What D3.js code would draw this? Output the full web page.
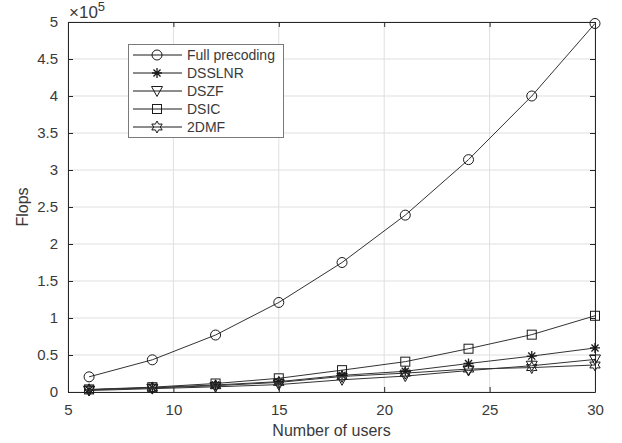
<!DOCTYPE html>
<html>
<head>
<meta charset="utf-8">
<script src="https://cdn.jsdelivr.net/npm/d3@7"></script>
<style>
  body { margin: 0; background: #fff; }
  text { font-family: "Liberation Sans", Arial, sans-serif; fill: #3a3a3a; }
</style>
</head>
<body>
<div id="chart"></div>
<script>
// chart data (flops, in units of 1e5)
var users = [6, 9, 12, 15, 18, 21, 24, 27, 30];
var fullPrecoding = [0.205, 0.435, 0.77, 1.21, 1.75, 2.39, 3.14, 4.0, 4.98];
var dsslnr = [0.03, 0.06, 0.095, 0.14, 0.225, 0.28, 0.385, 0.485, 0.595];
var dszf = [0.02, 0.045, 0.07, 0.1, 0.165, 0.215, 0.29, 0.355, 0.44];
var dsic = [0.035, 0.065, 0.115, 0.185, 0.295, 0.41, 0.585, 0.775, 1.03];
var dmf2 = [0.03, 0.055, 0.085, 0.13, 0.21, 0.255, 0.31, 0.33, 0.365];

var seriesNames = ["Full precoding", "DSSLNR", "DSZF", "DSIC", "2DMF"];
var seriesValues = [fullPrecoding, dsslnr, dszf, dsic, dmf2];
var markerTypes = ["circle", "asterisk", "triangle", "square", "hexagram"];

var xTicks = [5, 10, 15, 20, 25, 30];
var yTicks = [0, 0.5, 1, 1.5, 2, 2.5, 3, 3.5, 4, 4.5, 5];

var svgWidth = 622;
var svgHeight = 443;
var margin = { top: 22, right: 27, bottom: 51, left: 68 };
var width = svgWidth - margin.left - margin.right;
var height = svgHeight - margin.top - margin.bottom;

var svg = d3.select("#chart")
  .append("svg")
  .attr("width", svgWidth)
  .attr("height", svgHeight);

var chartGroup = svg.append("g")
  .attr("transform", `translate(${margin.left}, ${margin.top})`);

var xScale = d3.scaleLinear().domain([5, 30]).range([0, width]);
var yScale = d3.scaleLinear().domain([0, 5]).range([height, 0]);

var axisColor = "#262626";
var gridColor = "#dfdfdf";

// grid lines
chartGroup.append("g")
  .selectAll("line")
  .data(xTicks)
  .enter()
  .append("line")
  .attr("x1", d => xScale(d)).attr("x2", d => xScale(d))
  .attr("y1", 0).attr("y2", height)
  .attr("stroke", gridColor);

chartGroup.append("g")
  .selectAll("line")
  .data(yTicks)
  .enter()
  .append("line")
  .attr("x1", 0).attr("x2", width)
  .attr("y1", d => yScale(d)).attr("y2", d => yScale(d))
  .attr("stroke", gridColor);

// axes (ticks pointing inward, box on all sides)
function styleAxis(g) {
  g.select(".domain").attr("stroke", axisColor);
  g.selectAll(".tick line").attr("stroke", axisColor);
  g.selectAll(".tick text")
    .attr("fill", "#3a3a3a")
    .style("font-size", "15px")
    .style("font-family", "'Liberation Sans', Arial, sans-serif");
}

chartGroup.append("g")
  .attr("transform", `translate(0, ${height})`)
  .call(d3.axisBottom(xScale).tickValues(xTicks).tickSizeInner(-5).tickSizeOuter(0).tickPadding(12))
  .call(styleAxis);

chartGroup.append("g")
  .call(d3.axisTop(xScale).tickValues(xTicks).tickSizeInner(-5).tickSizeOuter(0).tickFormat(""))
  .call(styleAxis);

chartGroup.append("g")
  .call(d3.axisLeft(yScale).tickValues(yTicks).tickFormat(d => String(d)).tickSizeInner(-5).tickSizeOuter(0).tickPadding(10))
  .call(styleAxis);

chartGroup.append("g")
  .attr("transform", `translate(${width}, 0)`)
  .call(d3.axisRight(yScale).tickValues(yTicks).tickSizeInner(-5).tickSizeOuter(0).tickFormat(""))
  .call(styleAxis);

// exponent label
var expLabel = svg.append("text")
  .attr("x", margin.left + 1)
  .attr("y", 18)
  .style("font-size", "17px");
expLabel.append("tspan").text("\u00d710");
expLabel.append("tspan").attr("dy", -7).style("font-size", "13px").text("5");

// axis titles
svg.append("text")
  .attr("x", margin.left + width / 2)
  .attr("y", 436)
  .attr("text-anchor", "middle")
  .style("font-size", "16px")
  .text("Number of users");

svg.append("text")
  .attr("transform", `translate(28, ${margin.top + height / 2}) rotate(-90)`)
  .attr("text-anchor", "middle")
  .style("font-size", "16px")
  .text("Flops");

// marker drawing
function drawMarker(g, type) {
  var c = "#1a1a1a";
  if (type === "circle") {
    g.append("circle").attr("r", 5).attr("fill", "none").attr("stroke", c);
  } else if (type === "square") {
    g.append("rect").attr("x", -4.5).attr("y", -4.5).attr("width", 9).attr("height", 9)
      .attr("fill", "none").attr("stroke", c);
  } else if (type === "triangle") {
    g.append("path").attr("d", "M-5.5,-4.5 L5.5,-4.5 L0,5.5 Z")
      .attr("fill", "none").attr("stroke", c);
  } else if (type === "asterisk") {
    var r = 5;
    var k = r * 0.7071;
    g.append("path")
      .attr("d", `M${-r},0L${r},0M0,${-r}L0,${r}M${-k},${-k}L${k},${k}M${-k},${k}L${k},${-k}`)
      .attr("stroke", c).attr("stroke-width", 1.3);
  } else if (type === "hexagram") {
    var pts = [];
    for (var i = 0; i < 12; i++) {
      var rr = i % 2 === 0 ? 6 : 3.3;
      var a = -Math.PI / 2 + i * Math.PI / 6;
      pts.push([rr * Math.cos(a), rr * Math.sin(a)]);
    }
    g.append("path").attr("d", "M" + pts.join("L") + "Z")
      .attr("fill", "none").attr("stroke", c);
  }
}

// series lines and markers
var line = d3.line()
  .x((d, i) => xScale(users[i]))
  .y(d => yScale(d));

seriesValues.forEach(function(vals, s) {
  chartGroup.append("path")
    .datum(vals)
    .attr("d", line)
    .attr("fill", "none")
    .attr("stroke", "#333")
    .attr("stroke-width", 1);

  chartGroup.selectAll(".m" + s)
    .data(vals)
    .enter()
    .append("g")
    .attr("class", "m" + s)
    .attr("transform", (d, i) => `translate(${xScale(users[i])}, ${yScale(d)})`)
    .each(function() { drawMarker(d3.select(this), markerTypes[s]); });
});

// legend
var legend = svg.append("g").attr("transform", "translate(128, 44)");
legend.append("rect")
  .attr("x", 0.5).attr("y", 0.5)
  .attr("width", 155).attr("height", 93)
  .attr("fill", "#fff")
  .attr("stroke", "#7a7a7a");

seriesNames.forEach(function(name, s) {
  var y = 11 + s * 18;
  legend.append("line")
    .attr("x1", 5).attr("x2", 54)
    .attr("y1", y).attr("y2", y)
    .attr("stroke", "#1a1a1a");
  var mg = legend.append("g").attr("transform", `translate(29, ${y})`);
  drawMarker(mg, markerTypes[s]);
  legend.append("text")
    .attr("x", 59)
    .attr("y", y + 5)
    .attr("fill", "#1a1a1a")
    .style("font-size", "14px")
    .text(name);
});
</script>
</body>
</html>
